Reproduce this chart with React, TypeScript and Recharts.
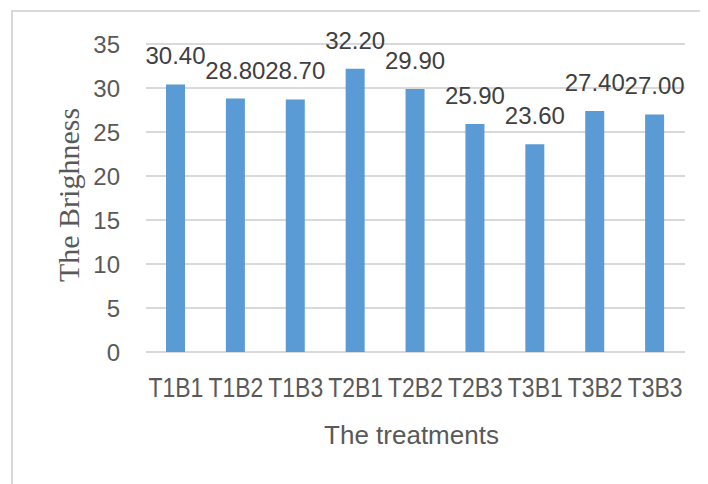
import { BarChart, Bar, XAxis, YAxis, CartesianGrid, LabelList } from 'recharts';

const treatments = ['T1B1', 'T1B2', 'T1B3', 'T2B1', 'T2B2', 'T2B3', 'T3B1', 'T3B2', 'T3B3'];
const brightness = [30.4, 28.8, 28.7, 32.2, 29.9, 25.9, 23.6, 27.4, 27.0];
const yTicks = [0, 5, 10, 15, 20, 25, 30, 35];

const data = treatments.map((name, i) => ({ name, value: brightness[i] }));

const textGray = '#595959';
const gridGray = '#d9d9d9';
const barBlue = '#5b9bd5';

// no narrow font installed, so squeeze the category labels a bit
function TreatmentTick({ x, y, payload }: any) {
  return (
    <g transform={`translate(${x},${y}) scale(0.85,1)`}>
      <text
        x={0}
        y={0}
        dy="0.71em"
        textAnchor="middle"
        fontFamily="'Liberation Sans'"
        fontSize={27}
        fill={textGray}
      >
        {payload.value}
      </text>
    </g>
  );
}

export default function App() {
  return (
    <div style={{ position: 'relative', width: 700, height: 476 }}>
      <div
        style={{
          position: 'absolute',
          left: 3,
          top: 2,
          right: 0,
          bottom: 0,
          borderLeft: `2px solid ${gridGray}`,
          borderTop: `2px solid ${gridGray}`,
        }}
      />
      <BarChart
        width={700}
        height={476}
        data={data}
        margin={{ top: 36, right: 23, bottom: 32, left: 0 }}
        style={{ position: 'absolute', left: 0, top: 0 }}
      >
        <CartesianGrid vertical={false} stroke={gridGray} strokeWidth={2} />
        <XAxis
          dataKey="name"
          axisLine={false}
          tickLine={false}
          tickSize={0}
          tickMargin={26}
          height={100}
          interval={0}
          tick={<TreatmentTick />}
          label={{
            value: 'The treatments',
            position: 'insideBottom',
            offset: 8,
            dx: -4,
            fontFamily: "'Liberation Sans'",
            fontSize: 26,
            fill: textGray,
          }}
        />
        <YAxis
          domain={[0, 35]}
          ticks={yTicks}
          axisLine={false}
          tickLine={false}
          tickSize={0}
          tickMargin={26}
          width={138}
          tick={{ fontFamily: "'Liberation Sans'", fontSize: 24, fill: textGray }}
          label={{
            value: 'The Brighness',
            angle: -90,
            position: 'center',
            dx: -9,
            dy: -3,
            fontFamily: "'Liberation Serif'",
            fontSize: 30,
            fill: textGray,
          }}
        />
        <Bar dataKey="value" fill={barBlue} barSize={19} isAnimationActive={false}>
          <LabelList
            dataKey="value"
            position="top"
            offset={20}
            formatter={(v: number) => v.toFixed(2)}
            style={{ fontFamily: "'Liberation Sans'", fontSize: 24, fill: '#404040' }}
          />
        </Bar>
      </BarChart>
    </div>
  );
}
